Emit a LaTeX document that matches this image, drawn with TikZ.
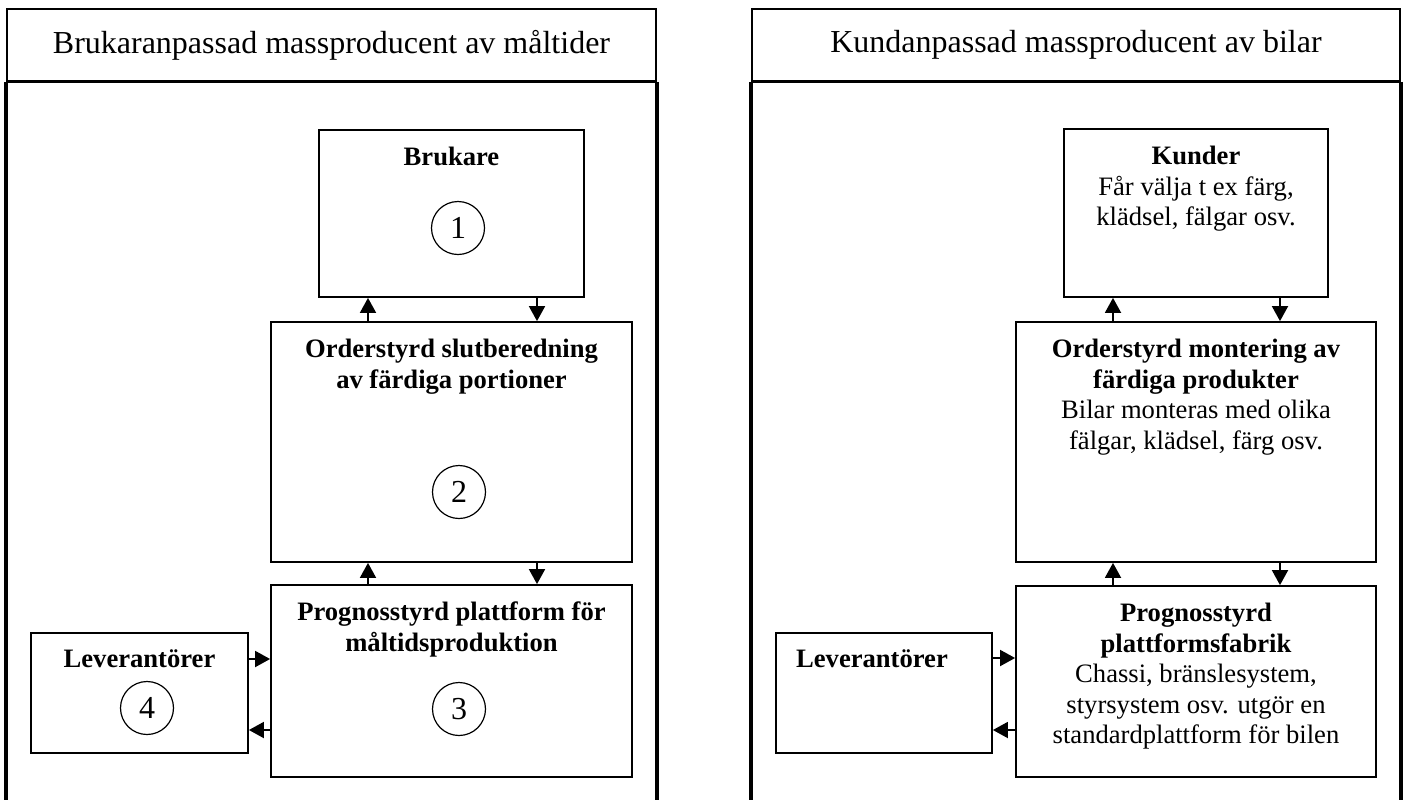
\documentclass[tikz,border=0pt]{standalone}
\usepackage{fontspec}
\setmainfont{Liberation Serif}
\usetikzlibrary{positioning,arrows.meta}

\begin{document}
\begin{tikzpicture}[x=0.5pt,y=-0.5pt]

\tikzstyle{head} = [rectangle, draw=black, line width=0.9pt, minimum height=36pt, inner sep=0pt, font=\fontsize{16}{19}\selectfont]

\tikzstyle{box} = [rectangle, draw=black, line width=0.9pt, inner sep=0pt]

\tikzstyle{txt} = [align=center, inner sep=0pt, font=\fontsize{13.3}{15.3}\selectfont]

\tikzstyle{num} = [circle, draw=black, line width=0.6pt, minimum size=26.5pt, inner sep=0pt, font=\fontsize{16}{19}\selectfont]

\tikzstyle{arr} = [line width=0.9pt, -{Triangle[length=7.5pt,width=8pt]}]

\tikzstyle{side} = [line width=2pt]

\useasboundingbox (0,0) rectangle (1403,799);

    % left panel
    \node [head, minimum width=324.5pt] (T1) at (331.5,45) {Brukaranpassad massproducent av måltider};
    \draw [side] (T1.south west) -- ++(0,718);
    \draw [side] (T1.south east) -- ++(0,718);
    \draw [line width=1.3pt] (T1.south west) -- (T1.south east);

    \node [box, minimum width=132.5pt, minimum height=83.5pt] (B1) at (451.5,213.5) {};
    \node [box, minimum width=180.5pt, minimum height=120pt] (B2) at (451.5,442) {};
    \node [box, minimum width=180.5pt, minimum height=96pt] (B3) at (451.5,681) {};
    \node [box, minimum width=108.5pt, minimum height=60pt] (L1) at (139.5,693) {};

    \node [txt, below=8.8pt of B1.north] (B1t) {\textbf{Brukare}};
    \node [txt, below=8.8pt of B2.north] (B2t) {\textbf{Orderstyrd slutberedning}\\\textbf{av färdiga portioner}};
    \node [txt, below=8.8pt of B3.north] (B3t) {\textbf{Prognosstyrd plattform för}\\\textbf{måltidsproduktion}};
    \node [txt, below=8.8pt of L1.north] (L1t) {\textbf{Leverantörer}};

    \node [num] (N1) at (458,228) {1};
    \node [num] (N2) at (459,492) {2};
    \node [num] (N3) at (459,709) {3};
    \node [num] (N4) at (147,708) {4};

    \draw [arr] (B2.north -| 368,0) -- (B1.south -| 368,0);
    \draw [arr] (B1.south -| 537,0) -- (B2.north -| 537,0);
    \draw [arr] (B3.north -| 368,0) -- (B2.south -| 368,0);
    \draw [arr] (B2.south -| 537,0) -- (B3.north -| 537,0);
    \draw [arr] (L1.east |- 0,659) -- (B3.west |- 0,659);
    \draw [arr] (B3.west |- 0,730) -- (L1.east |- 0,730);

    % right panel
    \node [head, minimum width=324pt] (T2) at (1076,45) {Kundanpassad massproducent av bilar};
    \draw [side] (T2.south west) -- ++(0,718);
    \draw [side] (T2.south east) -- ++(0,718);
    \draw [line width=1.3pt] (T2.south west) -- (T2.south east);

    \node [box, minimum width=132pt, minimum height=84pt] (K1) at (1196,213) {};
    \node [box, minimum width=180pt, minimum height=120pt] (R2) at (1196,442) {};
    \node [box, minimum width=180pt, minimum height=95.5pt] (R3) at (1196,681.5) {};
    \node [box, minimum width=108pt, minimum height=60pt] (L2) at (884,693) {};

    \node [txt, below=8.8pt of K1.north] (K1t) {\textbf{Kunder}\\Får välja t ex färg,\\klädsel, fälgar osv.};
    \node [txt, below=8.8pt of R2.north] (R2t) {\textbf{Orderstyrd montering av}\\\textbf{färdiga produkter}\\Bilar monteras med olika\\fälgar, klädsel, färg osv.};
    \node [txt, below=8.8pt of R3.north] (R3t) {\textbf{Prognosstyrd}\\\textbf{plattformsfabrik}\\Chassi, bränslesystem,\\styrsystem osv. utgör en\\standardplattform för bilen};
    \node [txt, below=8.8pt of L2.north, xshift=-6pt] (L2t) {\textbf{Leverantörer}};

    \draw [arr] (R2.north -| 1113,0) -- (K1.south -| 1113,0);
    \draw [arr] (K1.south -| 1280,0) -- (R2.north -| 1280,0);
    \draw [arr] (R3.north -| 1113,0) -- (R2.south -| 1113,0);
    \draw [arr] (R2.south -| 1280,0) -- (R3.north -| 1280,0);
    \draw [arr] (L2.east |- 0,658) -- (R3.west |- 0,658);
    \draw [arr] (R3.west |- 0,730) -- (L2.east |- 0,730);

\end{tikzpicture}
\end{document}
